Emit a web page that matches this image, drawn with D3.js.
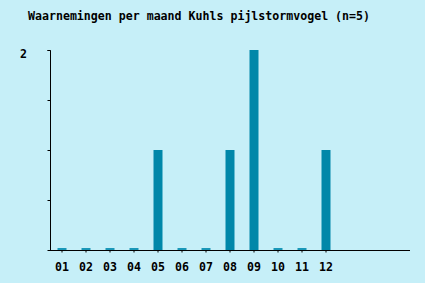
<!DOCTYPE html>
<html>
<head>
<meta charset="utf-8">
<script src="https://cdn.jsdelivr.net/npm/d3@7"></script>
<style>
  body { margin: 0; background: #c6eff8; }
  text { font-family: "DejaVu Sans Mono", "Liberation Mono", monospace; font-weight: bold; }
</style>
</head>
<body>
<div id="chart"></div>
<script>
// Chart size
var width  = 425;
var height = 283;

// Data
var title  = "Waarnemingen per maand Kuhls pijlstormvogel (n=5)";
var months = ["01", "02", "03", "04", "05", "06", "07", "08", "09", "10", "11", "12"];
var counts = [0, 0, 0, 0, 1, 0, 0, 1, 2, 0, 0, 1];
var yTicks = [0, 0.5, 1, 1.5, 2];
var yLabels = [2];

var margin = {left: 50, right: 15, top: 50, bottom: 33};
var fontSize = "11.6px";

var svg = d3.select("#chart").append("svg")
    .attr("width", width)
    .attr("height", height);

svg.append("rect")
    .attr("width", width)
    .attr("height", height)
    .attr("fill", "#c6eff8");

// 15 slots on the axis, only the first 12 are used
var slots = d3.range(15).map(function(i) { return i < months.length ? months[i] : "_" + i; });

var x = d3.scaleBand()
    .domain(slots)
    .range([margin.left, width - margin.right])
    .paddingInner(0.625)
    .paddingOuter(0.3125);

var y = d3.scaleLinear()
    .domain([0, 2])
    .range([height - margin.bottom, margin.top]);

// Title
svg.append("text")
    .attr("x", 28)
    .attr("y", 20)
    .attr("font-size", fontSize)
    .attr("fill", "#000")
    .text(title);

// Bars; zero counts get a thin marker
svg.append("g")
    .selectAll("rect")
    .data(counts)
    .enter()
    .append("rect")
    .attr("x", function(d, i) { return x(months[i]); })
    .attr("width", x.bandwidth())
    .attr("y", function(d) { return d > 0 ? y(d) : y(0) - 2; })
    .attr("height", function(d) { return d > 0 ? y(0) - y(d) : 2; })
    .attr("fill", function(d) { return d > 0 ? "#0087a9" : "#1a97b8"; });

// Y axis
var yAxis = svg.append("g")
    .attr("transform", "translate(" + (margin.left + 0.5) + ",0)")
    .call(d3.axisLeft(y).tickValues(yTicks).tickSize(3).tickFormat(""));
yAxis.select(".domain").attr("d", "M-3," + (y(2) + 0.5) + "H0V" + (y(0) + 0.5));
yAxis.selectAll(".tick line").attr("stroke", "#000");

svg.append("g")
    .selectAll("text")
    .data(yLabels)
    .enter()
    .append("text")
    .attr("x", 27)
    .attr("y", function(d) { return y(d) + 8; })
    .attr("text-anchor", "end")
    .attr("font-size", fontSize)
    .text(function(d) { return d; });

// X axis
var xAxis = svg.append("g")
    .attr("transform", "translate(0," + (y(0) + 0.5) + ")")
    .call(d3.axisBottom(x).tickValues(months).tickSize(2).tickSizeOuter(0).tickPadding(10));
xAxis.select(".domain").attr("d", "M" + margin.left + ",0H" + (width - margin.right));
xAxis.selectAll(".tick text")
    .attr("font-size", fontSize)
    .attr("fill", "#000");
</script>
</body>
</html>
